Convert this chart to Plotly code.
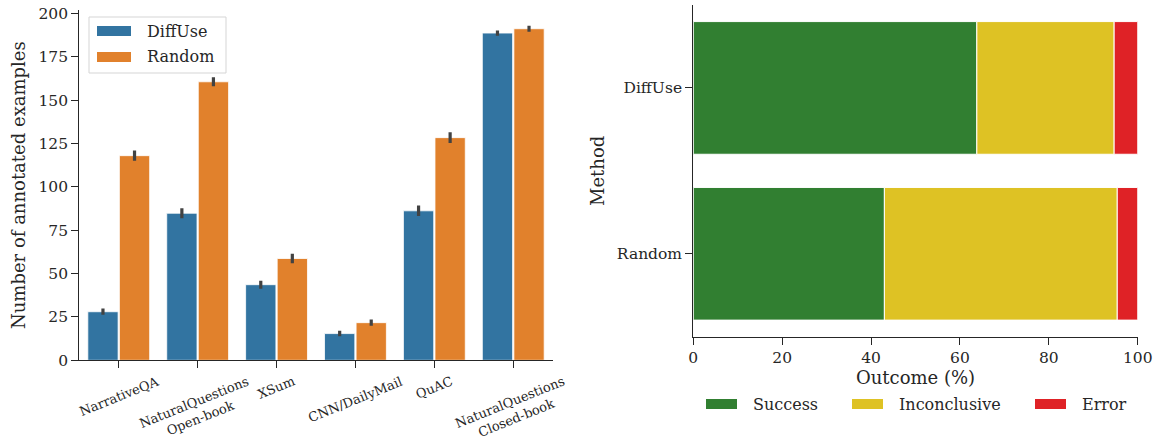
import numpy as np
import plotly.graph_objects as go

W, H = 1157, 439

# ---------------- data ----------------
datasets = ["NarrativeQA", "NaturalQuestions<br>Open-book", "XSum",
            "CNN/DailyMail", "QuAC", "NaturalQuestions<br>Closed-book"]
diffuse_counts = [28.0, 84.8, 43.6, 15.4, 86.2, 188.7]
random_counts = [118.0, 160.6, 58.7, 21.7, 128.4, 191.2]
diffuse_err = [1.8, 2.9, 2.3, 1.6, 3.0, 1.5]
random_err = [3.0, 2.6, 2.8, 1.8, 3.1, 1.7]
left_series = ["DiffUse", "Random"]
y_ticks = [0, 25, 50, 75, 100, 125, 150, 175, 200]

methods = ["DiffUse", "Random"]
success = [63.8, 43.0]
inconclusive = [30.9, 52.4]
error = [5.3, 4.6]
outcomes = ["Success", "Inconclusive", "Error"]
x2_ticks = [0, 20, 40, 60, 80, 100]

# ---------------- style ----------------
FONT = "DejaVu Serif"
TXT = "#262626"
BLUE, ORANGE = "#3274a1", "#e1812c"
GREEN, YELLOW, RED = "#317f31", "#dec224", "#df2226"
ERRC = "#424242"
TICK_SIZE = 15.5
TITLE_SIZE = 18


def px(x):
    return x / W


def py(y):
    return 1 - y / H


fig = go.Figure()

# left grouped bars
for name, vals, errs, col in [(left_series[0], diffuse_counts, diffuse_err, BLUE),
                              (left_series[1], random_counts, random_err, ORANGE)]:
    fig.add_trace(go.Bar(
        x=datasets, y=vals, name=name, offsetgroup=name,
        marker=dict(color=col, line=dict(color="white", width=0.8)),
        error_y=dict(type="data", array=errs, color=ERRC, thickness=3.2, width=0),
        xaxis="x", yaxis="y", showlegend=False,
    ))

# right stacked horizontal bars
seg_vals = [success, inconclusive, error]
seg_cols = [GREEN, YELLOW, RED]
bases = np.cumsum([[0, 0]] + seg_vals[:-1], axis=0)
for name, vals, base, col in zip(outcomes, seg_vals, bases, seg_cols):
    fig.add_trace(go.Bar(
        y=methods, x=vals, base=list(base), orientation="h", name=name,
        offsetgroup="stack", width=0.8, offset=-0.4,
        marker=dict(color=col, line=dict(color="white", width=1)),
        xaxis="x2", yaxis="y2", showlegend=False,
    ))

axis_common = dict(
    showline=True, linecolor=TXT, linewidth=1.25, ticks="outside", ticklen=7,
    tickwidth=1.25, tickcolor=TXT, showgrid=False, zeroline=False, automargin=False,
    tickfont=dict(family=FONT, size=TICK_SIZE, color=TXT),
)

fig.update_layout(
    width=W, height=H, margin=dict(l=0, r=0, t=0, b=0, autoexpand=False),
    paper_bgcolor="white", plot_bgcolor="white",
    barmode="group", bargap=0.2, bargroupgap=0.04,
    font=dict(family=FONT, color=TXT),
    xaxis=dict(domain=[px(79.3), px(552.7)], range=[-0.5, 5.5], showticklabels=False,
               anchor="y", **axis_common),
    yaxis=dict(domain=[py(360.3), py(10)], range=[0, 202], tickvals=y_ticks,
               anchor="x", **axis_common),
    xaxis2=dict(domain=[px(693.3), px(1137.7)], range=[0, 100], tickvals=x2_ticks,
                anchor="y2", **axis_common),
    yaxis2=dict(domain=[py(336.7), py(5)], type="category", categoryarray=methods,
                range=[1.5, -0.5], anchor="x2", **axis_common),
)

title_font = dict(family=FONT, size=TITLE_SIZE, color=TXT)
fig.add_annotation(x=px(18), y=py(185), xref="paper", yref="paper",
                   text="Number of annotated examples", textangle=-90,
                   showarrow=False, xanchor="center", yanchor="middle", font=title_font)
fig.add_annotation(x=px(598), y=py(171), xref="paper", yref="paper",
                   text="Method", textangle=-90,
                   showarrow=False, xanchor="center", yanchor="middle", font=title_font)
fig.add_annotation(x=px(915.5), y=py(377), xref="paper", yref="paper",
                   text="Outcome (%)",
                   showarrow=False, xanchor="center", yanchor="middle", font=title_font)

# rotated category labels on the left chart (centered under ticks)
for cat in datasets:
    fig.add_annotation(
        x=cat, y=py(371), xref="x", yref="paper", text=cat, showarrow=False,
        textangle=-22, xanchor="center", yanchor="top", align="center",
        font=dict(family=FONT, size=13, color=TXT),
    )

# left legend (box + patches)
fig.add_shape(type="rect", xref="paper", yref="paper",
              x0=px(89), x1=px(226), y0=py(73), y1=py(17),
              line=dict(color="#d5d5d5", width=1), fillcolor="rgba(255,255,255,0.8)")
for i, (name, col) in enumerate(zip(left_series, [BLUE, ORANGE])):
    yc = 31 + 26 * i
    fig.add_shape(type="rect", xref="paper", yref="paper",
                  x0=px(97), x1=px(131), y0=py(yc + 5), y1=py(yc - 5),
                  line=dict(width=0), fillcolor=col)
    fig.add_annotation(x=px(145), y=py(yc), xref="paper", yref="paper", text=name,
                       showarrow=False, xanchor="left", yanchor="middle",
                       font=dict(family=FONT, size=16, color=TXT))

# right legend below the axis
leg_x = [706, 852, 1035]
for name, col, x0 in zip(outcomes, seg_cols, leg_x):
    yc = 404
    fig.add_shape(type="rect", xref="paper", yref="paper",
                  x0=px(x0), x1=px(x0 + 31), y0=py(yc + 5), y1=py(yc - 5),
                  line=dict(width=0), fillcolor=col)
    fig.add_annotation(x=px(x0 + 45), y=py(yc), xref="paper", yref="paper", text=name,
                       showarrow=False, xanchor="left", yanchor="middle",
                       font=dict(family=FONT, size=16, color=TXT))

fig.write_html("out.html", config={"displayModeBar": False},
               post_script="document.body.style.margin='0';document.body.style.overflow='hidden';")
